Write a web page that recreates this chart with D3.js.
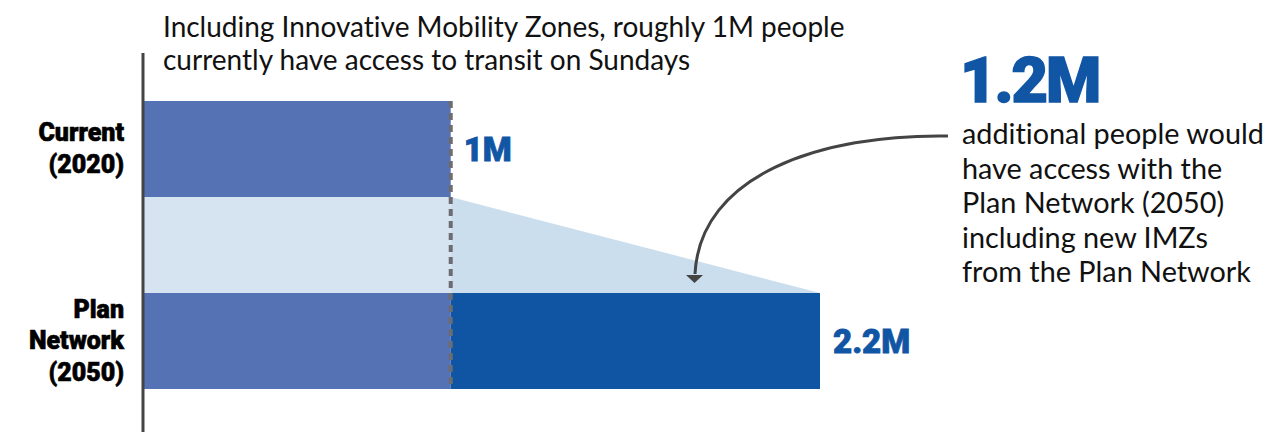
<!DOCTYPE html>
<html>
<head>
<meta charset="utf-8">
<script src="https://cdn.jsdelivr.net/npm/d3@7"></script>
<style>
  body { margin: 0; background: #fff; }
  svg { display: block; }
  text { font-variant-ligatures: none; }
  .cat { font-family: Roboto, "Liberation Sans", sans-serif; font-weight: 900; font-size: 25px; fill: #000; stroke: #000; stroke-width: 0.6px; }
  .val { font-family: Roboto, "Liberation Sans", sans-serif; font-weight: 900; fill: #1155a5; stroke: #1155a5; }
  .note { font-family: Lato, "Open Sans", sans-serif; font-size: 28px; fill: #111; }
</style>
</head>
<body>
<svg id="canvas" width="1264" height="432"></svg>
<script>
const categories = ["Current (2020)", "Plan Network (2050)"];
const catLines = [["Current", "(2020)"], ["Plan", "Network", "(2050)"]];
const baseAccess = [1.0, 1.0];     // millions with access today
const addedAccess = [0, 1.2];      // additional millions in the plan
const valueLabels = ["1M", "2.2M"];
const titleLines = ["Including Innovative Mobility Zones, roughly 1M people",
                    "currently have access to transit on Sundays"];
const bigNumber = "1.2M";
const noteLines = ["additional people would", "have access with the",
                   "Plan Network (2050)", "including new IMZs", "from the Plan Network"];

const svg = d3.select("#canvas");

const x = d3.scaleLinear().domain([0, 2.2]).range([143, 820]);
const y = d3.scaleBand().domain(categories).range([101, 389]).paddingInner(0.5).paddingOuter(0);
const bw = y.bandwidth();

// connector band between the two bars
const yc0 = y(categories[0]) + bw, yc1 = y(categories[1]);
svg.append("rect")
    .attr("x", x(0)).attr("y", yc0)
    .attr("width", x(baseAccess[0]) - x(0)).attr("height", yc1 - yc0)
    .attr("fill", "#d6e4f2");
svg.append("path")
    .attr("d", d3.line()([[x(baseAccess[0]), yc0], [x(baseAccess[1] + addedAccess[1]), yc1], [x(baseAccess[0]), yc1]]))
    .attr("fill", "#cbdeed");

// base bars
svg.selectAll(".base")
    .data(categories)
    .enter().append("rect")
    .attr("class", "base")
    .attr("x", x(0))
    .attr("y", d => y(d))
    .attr("width", (d, i) => x(baseAccess[i]) - x(0))
    .attr("height", bw)
    .attr("fill", "#5572b5");

// added bars
svg.selectAll(".added")
    .data(categories)
    .enter().append("rect")
    .attr("class", "added")
    .attr("x", (d, i) => x(baseAccess[i]))
    .attr("y", d => y(d))
    .attr("width", (d, i) => x(baseAccess[i] + addedAccess[i]) - x(baseAccess[i]))
    .attr("height", bw)
    .attr("fill", "#1055a3");

// dashed reference line at current level
svg.append("line")
    .attr("x1", x(baseAccess[0])).attr("x2", x(baseAccess[0]))
    .attr("y1", y(categories[0])).attr("y2", y(categories[1]) + bw)
    .attr("stroke", "#6c6c72").attr("stroke-width", 4)
    .attr("stroke-dasharray", "7,5");

// axis line
svg.append("line")
    .attr("x1", 143).attr("x2", 143).attr("y1", 53).attr("y2", 432)
    .attr("stroke", "#444").attr("stroke-width", 3);

// category labels
catLines.forEach((lines, i) => {
    const cy = y(categories[i]) + bw / 2;
    const lh = 31.5;
    const t = svg.append("text").attr("class", "cat").attr("text-anchor", "end");
    lines.forEach((l, j) => {
        t.append("tspan").attr("x", 124)
            .attr("y", cy + (j - (lines.length - 1) / 2) * lh + 8)
            .text(l);
    });
});

// value labels
svg.selectAll(".val")
    .data(categories)
    .enter().append("text")
    .attr("class", "val")
    .attr("x", (d, i) => x(baseAccess[i] + addedAccess[i]) + 13)
    .attr("y", d => y(d) + bw / 2 + 12)
    .style("font-size", "33px")
    .attr("stroke-width", 0.8)
    .text((d, i) => valueLabels[i]);

// title
const title = svg.append("text").attr("class", "note");
titleLines.forEach((l, j) => {
    title.append("tspan").attr("x", 163).attr("y", 37 + j * 33).text(l);
});

// big number + note
svg.append("text").attr("class", "val")
    .attr("x", 960).attr("y", 102)
    .style("font-size", "63px")
    .attr("stroke-width", 1.5)
    .attr("letter-spacing", -2)
    .text(bigNumber);
const note = svg.append("text").attr("class", "note").style("font-size", "28.8px");
noteLines.forEach((l, j) => {
    note.append("tspan").attr("x", 962).attr("y", 144 + j * 34.5).text(l);
});

// curved arrow
svg.append("path")
    .attr("d", "M948,136 C820,134 700,175 695,274")
    .attr("fill", "none").attr("stroke", "#444").attr("stroke-width", 3);
svg.append("path")
    .attr("d", "M686,275 L703,275 L694.5,283 Z")
    .attr("fill", "#444");
</script>
</body>
</html>
